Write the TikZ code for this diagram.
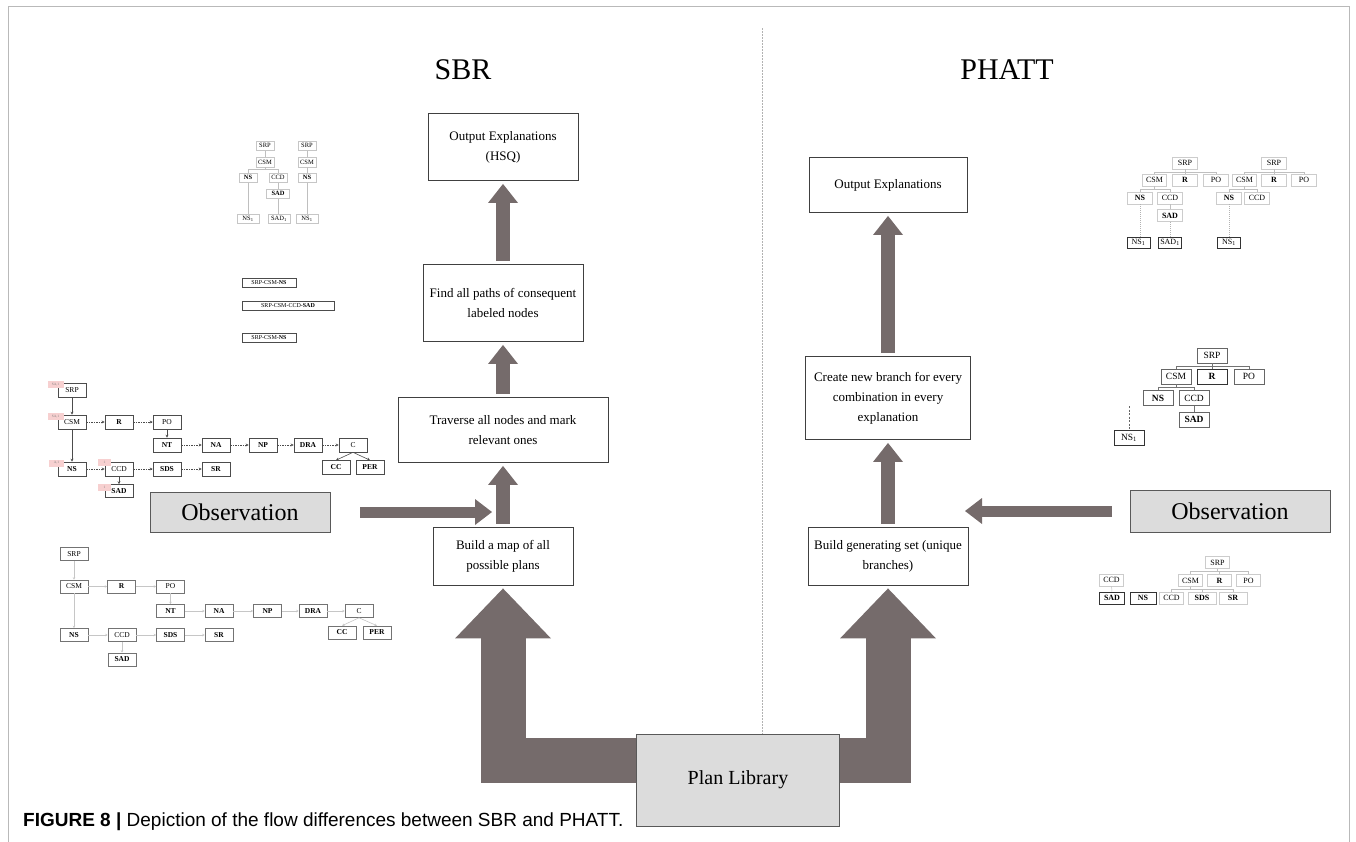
\documentclass[tikz,border=0pt]{standalone}
\usepackage{fontspec}
\setmainfont{Liberation Serif}
\newfontfamily\capfont{Liberation Sans}
\usetikzlibrary{arrows.meta,calc}
\definecolor{arr}{RGB}{117,107,107}
\definecolor{obsfill}{RGB}{220,220,220}
\definecolor{pinkl}{RGB}{247,208,208}
\newcommand{\fsz}[2]{\fontsize{#1}{#2}\selectfont}
\begin{document}
\begin{tikzpicture}[x=1pt,y=-1pt,
  mainbox/.style={draw=black!75,line width=0.9pt,fill=white,align=center,font=\fsz{13}{20},inner sep=3pt},
  graybox/.style={draw=black!65,line width=0.9pt,fill=obsfill},
  flow/.style={draw=arr,line width=14pt,-{Triangle[width=30pt,length=19pt,line width=0pt]},shorten <=3pt,shorten >=3pt},
  hflow/.style={draw=arr,line width=11pt,-{Triangle[width=26pt,length=17pt,line width=0pt]}},
  big/.style={draw=arr,line width=45pt,line join=miter,-{Triangle[width=96pt,length=50pt,line width=0pt]},shorten >=3pt},
  tl/.style={draw=gray!45,line width=0.5pt,font=\fsz{6.5}{7},minimum width=18pt,minimum height=9.5pt,inner sep=0.5pt,fill=white},
  lb/.style={draw=black!70,line width=0.6pt,font=\fsz{6}{7},minimum height=8.5pt,inner sep=0.5pt},
  ml/.style={draw=black!70,line width=0.6pt,font=\fsz{7.5}{8},minimum width=28pt,minimum height=14pt,inner sep=0.5pt,fill=white},
  bl/.style={draw=black!55,line width=0.6pt,font=\fsz{7.5}{8},minimum width=28pt,minimum height=13pt,inner sep=0.5pt,fill=white},
  tr/.style={draw=gray!40,line width=0.6pt,font=\fsz{8}{9},minimum width=24.5pt,minimum height=12pt,inner sep=0.5pt,fill=white},
  mr/.style={draw=black!60,line width=0.7pt,font=\fsz{9.5}{10},minimum width=30pt,minimum height=15pt,inner sep=0.5pt,fill=white},
  dk/.style={draw=black!80},
  pk/.style={fill=pinkl,font=\fsz{3.5}{4},text=black!50,minimum width=16pt,minimum height=7pt,inner sep=0pt},
  mlink/.style={draw=black!70,line width=0.6pt,-{Stealth[length=3pt,width=3pt]}},
  mdash/.style={mlink,dash pattern=on 1.5pt off 1pt},
  llink/.style={draw=gray!45,line width=0.6pt,-{Stealth[length=2.5pt,width=2.5pt]}},
  tline/.style={draw=gray!50,line width=0.5pt},
  dline/.style={draw=gray!60,line width=0.6pt,dash pattern=on 1pt off 1pt}]
\useasboundingbox (0,0) rectangle (1356,841);
% frame and divider
\draw[gray!55,line width=0.6pt] (8,900) -- (8,6) -- (1349,6) -- (1349,900);
\draw[gray!60,line width=0.6pt,dash pattern=on 1.5pt off 1.5pt] (762,28) -- (762,778);
% titles
\node[font=\fsz{30}{30}] (t1) at (463,70) {SBR};
\node[font=\fsz{30}{30}] (t2) at (1007,70) {PHATT};
% SBR column
\node[mainbox,minimum width=150pt,minimum height=67pt] (out1) at (503,147) {Output Explanations\\(HSQ)};
\node[mainbox,minimum width=160pt,minimum height=77pt] (find) at (503,303) {Find all paths of consequent\\labeled nodes};
\node[mainbox,minimum width=210pt,minimum height=65pt] (trav) at (503,430) {Traverse all nodes and mark\\relevant ones};
\node[mainbox,minimum width=140pt,minimum height=58pt] (build1) at (503,556) {Build a map of all\\possible plans};
% PHATT column
\node[mainbox,minimum width=158pt,minimum height=55pt] (out2) at (888,185) {Output Explanations};
\node[mainbox,minimum width=165pt,minimum height=83pt] (create) at (888,398) {Create new branch for every\\combination in every\\explanation};
\node[mainbox,minimum width=160pt,minimum height=58pt] (build2) at (888,556) {Build generating set (unique\\branches)};
% plan library, observations
\node[graybox,minimum width=203pt,minimum height=92pt,font=\fsz{20}{20}] (plan) at (738,780) {Plan Library};
\node[graybox,minimum width=180pt,minimum height=40pt,font=\fsz{24}{24}] (obs1) at (240,512) {Observation};
\node[graybox,minimum width=200pt,minimum height=42pt,font=\fsz{24}{24}] (obs2) at (1230,511) {Observation};
% flow arrows
\draw[flow] (find.north) -- (out1.south);
\draw[flow] (trav.north) -- (find.south);
\draw[flow] (build1.north) -- (trav.south);
\draw[flow] (create.north) -- (out2.south);
\draw[flow] (build2.north) -- (create.south);
\coordinate (obsLend) at (492,512);
\coordinate (obsRend) at (965,511);
\draw[hflow,shorten <=30pt] (obs1.east) -- (obsLend);
\draw[hflow,shorten <=18pt] (obs2.west) -- (obsRend);
\draw[big] ([yshift=20pt]plan.west) -| (build1.south);
\draw[big] ([yshift=20pt]plan.east) -| (build2.south);
% caption
\node[anchor=base west,font=\capfont\fsz{19}{19},inner sep=0pt] (cap) at (23,826) {\textbf{FIGURE 8 |} Depiction of the flow differences between SBR and PHATT.};

% ---------- top-left trees ----------
\node[tl] (srpA) at (265,145.5) {SRP};
\node[tl] (csmA) at (265,162) {CSM};
\node[tl] (nsA) at (248,177.5) {\textbf{NS}};
\node[tl] (ccdA) at (278,177.5) {CCD};
\node[tl,minimum width=23pt] (sadA) at (278,193.5) {\textbf{SAD}};
\node[tl,minimum width=22pt] (ns1A) at (248,218.5) {NS\textsubscript{1}};
\node[tl,minimum width=22pt] (sad1A) at (279,218.5) {SAD\textsubscript{1}};
\node[tl] (srpB) at (307,145.5) {SRP};
\node[tl] (csmB) at (307,162) {CSM};
\node[tl] (nsB) at (307,177.5) {\textbf{NS}};
\node[tl,minimum width=22pt] (ns1B) at (307,218.5) {NS\textsubscript{1}};
\draw[tline] (srpA) -- (csmA);
\draw[tline] (csmA.south) -- ++(0,2.5) -| (nsA.north);
\draw[tline] (csmA.south) -- ++(0,2.5) -| (ccdA.north);
\draw[tline] (ccdA) -- (sadA);
\draw[tline] (nsA.south) -- (ns1A.north);
\draw[tline] (sadA.south) -- (sad1A.north -| sadA.south);
\draw[tline] (srpB) -- (csmB);
\draw[tline] (csmB) -- (nsB);
\draw[tline] (nsB.south) -- (ns1B.north);
% path list boxes
\node[lb,minimum width=54pt] (lb1) at (269,283) {SRP-CSM-\textbf{NS}};
\node[lb,minimum width=92pt] (lb2) at (288,306) {SRP-CSM-CCD-\textbf{SAD}};
\node[lb,minimum width=54pt] (lb3) at (269,338) {SRP-CSM-\textbf{NS}};

% ---------- middle-left graph ----------
\node[ml] (srpM) at (72,390) {SRP};
\node[ml] (csmM) at (72,422) {CSM};
\node[ml] (rM) at (119,422) {\textbf{R}};
\node[ml] (poM) at (167,422) {PO};
\node[ml] (ntM) at (167,445) {\textbf{NT}};
\node[ml] (naM) at (216,445) {\textbf{NA}};
\node[ml] (npM) at (263,445) {\textbf{NP}};
\node[ml] (draM) at (308,445) {\textbf{DRA}};
\node[ml] (cM) at (353,445) {C};
\node[ml] (ccM) at (336,467.5) {\textbf{CC}};
\node[ml] (perM) at (370,467.5) {\textbf{PER}};
\node[ml] (nsM) at (72,469) {\textbf{NS}};
\node[ml] (ccdM) at (119,469) {CCD};
\node[ml] (sdsM) at (167,469) {\textbf{SDS}};
\node[ml] (srM) at (216,469) {\textbf{SR}};
\node[ml,minimum height=13pt] (sadM) at (119,491) {\textbf{SAD}};
\draw[mlink] (srpM) -- (csmM);
\draw[mlink] (csmM) -- (nsM);
\draw[mdash] (csmM) -- (rM);
\draw[mdash] (rM) -- (poM);
\draw[mlink] (poM) -- (ntM);
\draw[mdash] (ntM) -- (naM);
\draw[mdash] (naM) -- (npM);
\draw[mdash] (npM) -- (draM);
\draw[mdash] (draM) -- (cM);
\draw[mlink] (cM.south) -- (ccM.north);
\draw[mlink] (cM.south) -- (perM.north);
\draw[mdash] (nsM) -- (ccdM);
\draw[mdash] (ccdM) -- (sdsM);
\draw[mdash] (sdsM) -- (srM);
\draw[mlink] (ccdM) -- (sadM);
\node[pk] (pk1) at (55.5,384.5) {SA,1};
\node[pk] (pk2) at (55.5,416.5) {SA,1};
\node[pk,minimum width=15pt] (pk3) at (56.5,463) {A,1};
\node[pk,minimum width=13pt] (pk4) at (104.5,462.5) {1};
\node[pk,minimum width=13pt] (pk5) at (104.5,487) {1};

% ---------- bottom-left graph ----------
\node[bl] (srpL) at (74,554) {SRP};
\node[bl] (csmL) at (74,586.5) {CSM};
\node[bl] (rL) at (121.5,586.5) {\textbf{R}};
\node[bl] (poL) at (170.5,586.5) {PO};
\node[bl] (ntL) at (170.5,611) {\textbf{NT}};
\node[bl] (naL) at (219,611) {\textbf{NA}};
\node[bl] (npL) at (267.5,611) {\textbf{NP}};
\node[bl] (draL) at (313,611) {\textbf{DRA}};
\node[bl] (cL) at (359,611) {C};
\node[bl] (ccL) at (342,632.5) {\textbf{CC}};
\node[bl] (perL) at (377,632.5) {\textbf{PER}};
\node[bl] (nsL) at (74,635) {\textbf{NS}};
\node[bl] (ccdL) at (122,635) {CCD};
\node[bl] (sdsL) at (170.5,635) {\textbf{SDS}};
\node[bl] (srL) at (219,635) {\textbf{SR}};
\node[bl] (sadL) at (122,659.5) {\textbf{SAD}};
\draw[llink] (srpL) -- (csmL);
\draw[llink] (csmL) -- (nsL);
\draw[llink] (csmL) -- (rL);
\draw[llink] (rL) -- (poL);
\draw[llink] (poL) -- (ntL);
\draw[llink] (ntL) -- (naL);
\draw[llink] (naL) -- (npL);
\draw[llink] (npL) -- (draL);
\draw[llink] (draL) -- (cL);
\draw[llink] (cL.south) -- (ccL.north);
\draw[llink] (cL.south) -- (perL.north);
\draw[llink] (nsL) -- (ccdL);
\draw[llink] (ccdL) -- (sdsL);
\draw[llink] (sdsL) -- (srL);
\draw[llink] (ccdL) -- (sadL);

% ---------- top-right trees ----------
\node[tr] (srpT) at (1185,163) {SRP};
\node[tr] (csmT) at (1154.5,180) {CSM};
\node[tr] (rT) at (1185,180) {\textbf{R}};
\node[tr] (poT) at (1216,180) {PO};
\node[tr] (nsT) at (1140,198) {\textbf{NS}};
\node[tr] (ccdT) at (1170,198) {CCD};
\node[tr] (sadT) at (1170,215.5) {\textbf{SAD}};
\node[tr,dk,minimum width=23pt,minimum height=11pt] (ns1T) at (1138.5,242.5) {NS\textsubscript{1}};
\node[tr,dk,minimum width=23pt,minimum height=11pt] (sad1T) at (1170,242.5) {SAD\textsubscript{1}};
\node[tr] (srpU) at (1274,163) {SRP};
\node[tr] (csmU) at (1244.5,180) {CSM};
\node[tr] (rU) at (1274,180) {\textbf{R}};
\node[tr] (poU) at (1304,180) {PO};
\node[tr] (nsU) at (1229,198) {\textbf{NS}};
\node[tr] (ccdU) at (1257,198) {CCD};
\node[tr,dk,minimum width=23pt,minimum height=11pt] (ns1U) at (1229,242.5) {NS\textsubscript{1}};
\foreach \c in {csmT,rT,poT} \draw[tline] (srpT.south) -- ++(0,2.5) -| (\c.north);
\foreach \c in {nsT,ccdT} \draw[tline] (csmT.south) -- ++(0,3) -| (\c.north);
\draw[tline] (ccdT) -- (sadT);
\draw[dline] (nsT.south) -- (ns1T.north -| nsT.south);
\draw[dline] (sadT) -- (sad1T);
\foreach \c in {csmU,rU,poU} \draw[tline] (srpU.south) -- ++(0,2.5) -| (\c.north);
\foreach \c in {nsU,ccdU} \draw[tline] (csmU.south) -- ++(0,3) -| (\c.north);
\draw[dline] (nsU) -- (ns1U);

% ---------- middle-right tree ----------
\node[mr] (srpR) at (1212,355.5) {SRP};
\node[mr] (csmR) at (1176,376.5) {CSM};
\node[mr,dk] (rR) at (1212,376.5) {\textbf{R}};
\node[mr] (poR) at (1249,376.5) {PO};
\node[mr] (nsR) at (1158,398) {\textbf{NS}};
\node[mr] (ccdR) at (1194,398) {CCD};
\node[mr] (sadR) at (1194,419.5) {\textbf{SAD}};
\node[mr,dk,line width=0.9pt] (ns1R) at (1129,438) {NS\textsubscript{1}};
\foreach \c in {csmR,rR,poR} \draw[draw=black!55,line width=0.6pt] (srpR.south) -- ++(0,3) -| (\c.north);
\foreach \c in {nsR,ccdR} \draw[draw=black!55,line width=0.6pt] (csmR.south) -- ++(0,3) -| (\c.north);
\draw[draw=black!55,line width=0.6pt] (ccdR) -- (sadR);
\coordinate (dashtop) at (1129,406);
\draw[draw=black!60,line width=0.7pt,dash pattern=on 2pt off 1.5pt] (dashtop) -- (ns1R.north);

% ---------- bottom-right trees ----------
\node[tr] (srpB2) at (1217.5,562.5) {SRP};
\node[tr] (csmB2) at (1190.5,580.5) {CSM};
\node[tr] (rB2) at (1219.5,580.5) {\textbf{R}};
\node[tr] (poB2) at (1248.5,580.5) {PO};
\node[tr] (ccdX) at (1111.5,580) {CCD};
\node[tr,dk,line width=0.9pt] (sadX) at (1112,598) {\textbf{SAD}};
\node[tr,dk,line width=0.9pt,minimum width=26pt] (nsX) at (1143,598) {\textbf{NS}};
\node[tr] (ccdY) at (1171.5,598) {CCD};
\node[tr,minimum width=28pt] (sdsY) at (1202,598) {\textbf{SDS}};
\node[tr,minimum width=28pt] (srY) at (1233,598) {\textbf{SR}};
\foreach \c in {csmB2,rB2,poB2} \draw[tline] (srpB2.south) -- ++(0,2.5) -| (\c.north);
\foreach \c in {ccdY,sdsY,srY} \draw[tline] (csmB2.south) -- ++(0,2.5) -| (\c.north);
\draw[tline] (ccdX) -- (sadX);
\end{tikzpicture}
\end{document}
